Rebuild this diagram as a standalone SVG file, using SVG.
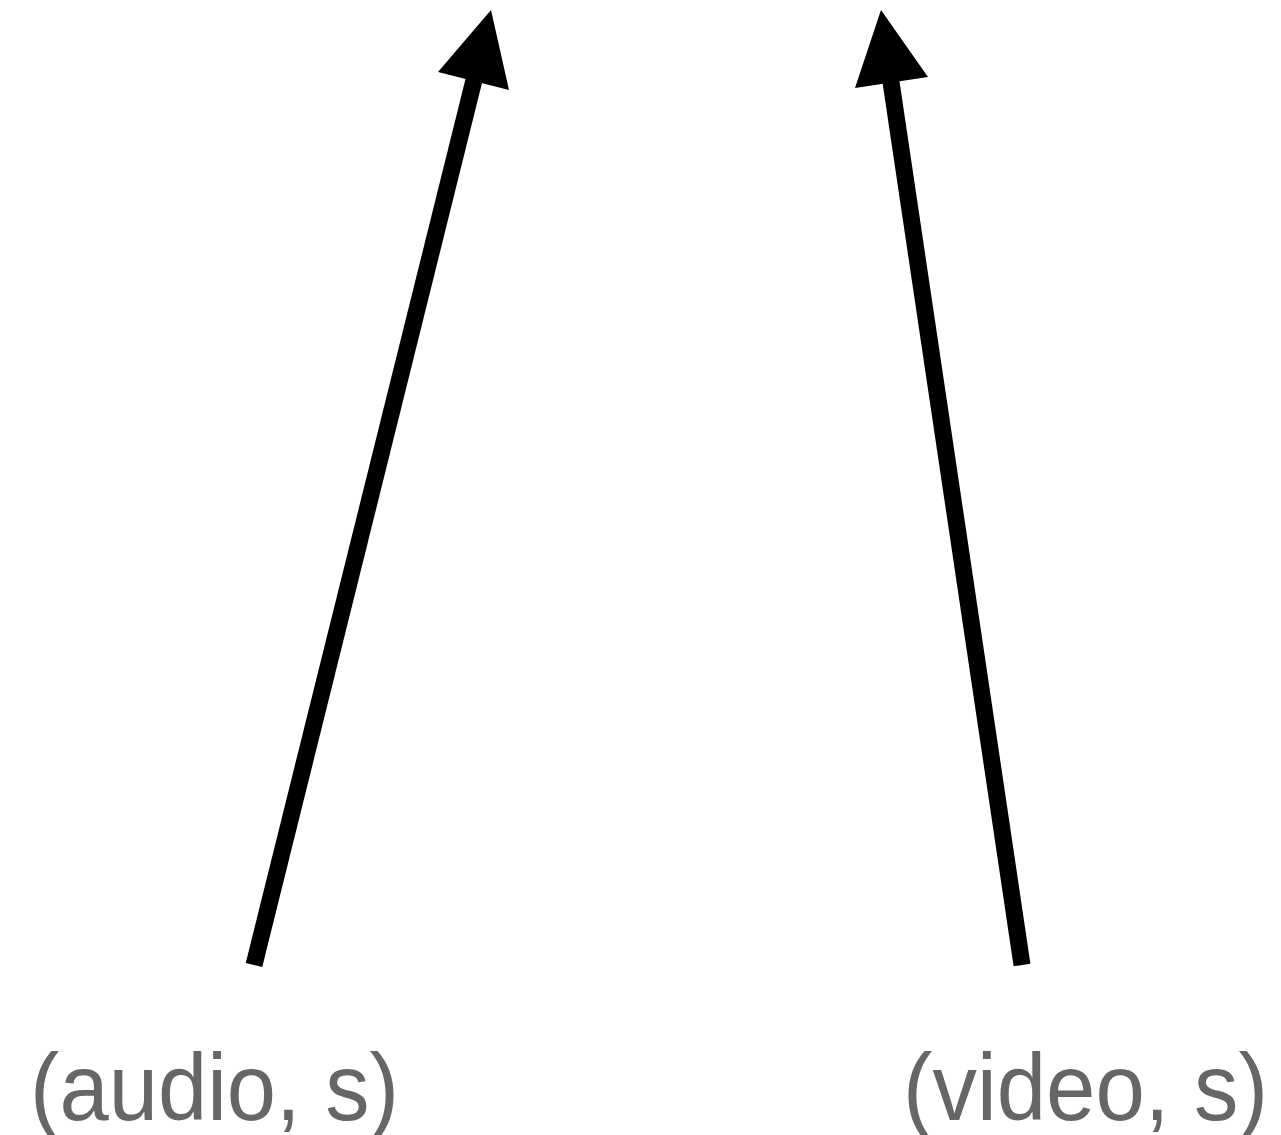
<svg xmlns="http://www.w3.org/2000/svg" width="1281" height="1135" viewBox="0 0 1281 1135">
<style>
.edge{stroke:#000;stroke-width:17;fill:none}
.head{fill:#000;stroke:none}
.lbl{font-family:"Liberation Sans",Arial,sans-serif;font-size:94px;fill:#666}
</style>
<rect width="1281" height="1135" fill="#fff"/>
<g id="connectors">
<line class="edge" x1="254" y1="965" x2="474" y2="80"/>
<polygon class="head" points="491,10 509,90 438,72"/>
<line class="edge" x1="1022" y1="965" x2="891" y2="82"/>
<polygon class="head" points="881,10 928,77 855,88"/>
</g>
<g id="node-audio"><text class="lbl" x="30" y="1120" textLength="369" lengthAdjust="spacingAndGlyphs">(audio, s)</text></g>
<g id="node-video"><text class="lbl" x="903" y="1120" textLength="365" lengthAdjust="spacingAndGlyphs">(video, s)</text></g>
</svg>
